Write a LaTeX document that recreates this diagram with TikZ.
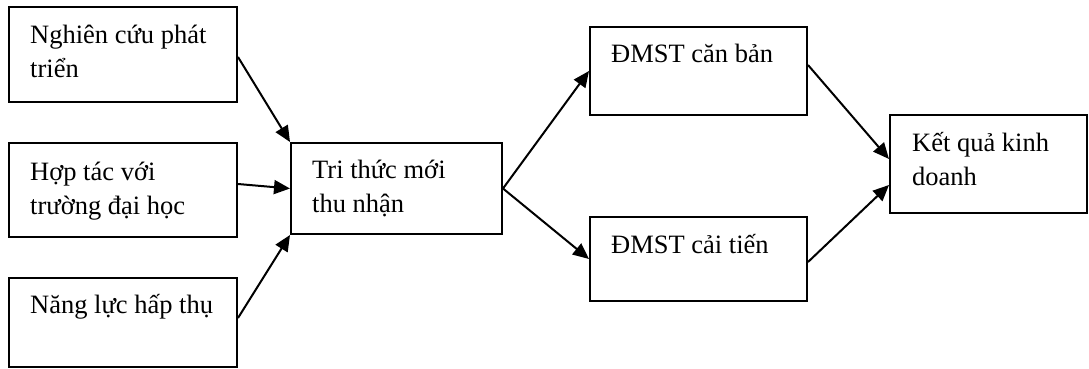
\documentclass[tikz,border=0pt]{standalone}
\usepackage{fontspec}
\setmainfont{Liberation Serif}
\usetikzlibrary{arrows.meta}
\tikzset{
  box/.style={draw=black, line width=2pt, rectangle, inner sep=0pt, fill=none},
  txt/.style={anchor=base west, inner sep=0pt, font=\fontsize{26.5}{34}\selectfont},
  arr/.style={line width=2pt, -{Triangle[length=16pt,width=14pt]}}
}
\newcommand{\twol}[2]{\begin{tabular}[t]{@{}l@{}}#1\\#2\end{tabular}}
\begin{document}
\begin{tikzpicture}[x=1pt,y=-1pt]
\useasboundingbox[fill=white] (0,0) rectangle (1089,369);
% boxes
\node[box, minimum width=228pt, minimum height=95pt] (b1) at (123,54.5) {};
\node[box, minimum width=228pt, minimum height=94pt] (b2) at (123,190) {};
\node[box, minimum width=228pt, minimum height=89pt] (b3) at (123,322.5) {};
\node[box, minimum width=211pt, minimum height=91pt] (b4) at (396.5,188.5) {};
\node[box, minimum width=217pt, minimum height=88pt] (b5) at (698.5,71) {};
\node[box, minimum width=217pt, minimum height=84pt] (b6) at (698.5,259) {};
\node[box, minimum width=197pt, minimum height=98pt] (b7) at (988.5,164) {};
% texts
\node[txt] (t1) at (30,44) {\twol{Nghiên cứu phát}{triển}};
\node[txt] (t2) at (30,180) {\twol{Hợp tác với}{trường đại học}};
\node[txt] (t3) at (30,313) {Năng lực hấp thụ};
\node[txt] (t4) at (312,178) {\twol{Tri thức mới}{thu nhận}};
\node[txt] (t5) at (611,63) {ĐMST căn bản};
\node[txt] (t6) at (611,253) {ĐMST cải tiến};
\node[txt] (t7) at (912,151) {\twol{Kết quả kinh}{doanh}};
% connectors
\draw[arr] ([yshift=-2.5pt]b1.east) -- (b4.north west);
\draw[arr] ([yshift=6pt]b2.east) -- (b4.west);
\draw[arr] ([yshift=4.5pt]b3.east) -- (b4.south west);
\draw[arr] (b4.east) -- (b5.west);
\draw[arr] (b4.east) -- (b6.west);
\draw[arr] ([yshift=6pt]b5.east) -- ([yshift=5pt]b7.west);
\draw[arr] ([yshift=-3pt]b6.east) -- ([yshift=-21pt]b7.west);
\end{tikzpicture}
\end{document}
